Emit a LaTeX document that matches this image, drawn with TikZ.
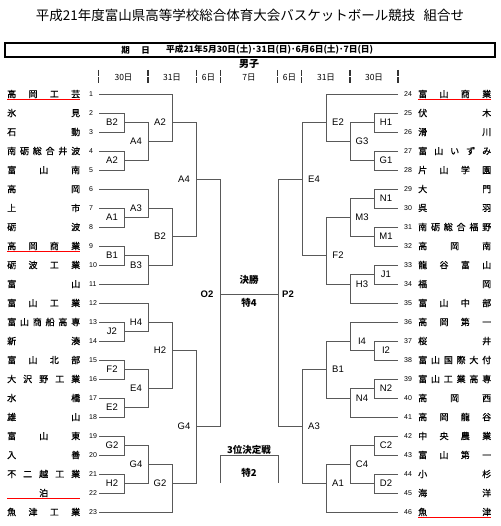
\documentclass[tikz,border=0pt]{standalone}
\usepackage{fontspec}
\setmainfont{Noto Sans CJK JP}
\newfontfamily\lat{Liberation Sans}
\font\tmfont="Noto Sans CJK JP:embolden=0.8" at 9pt
\def\spreadA#1#2{#1\ifx\relax#2\else\hfill\expandafter\spreadA\expandafter#2\fi}
\newcommand\spreadname[1]{\hbox to 73pt{\spreadA#1\relax}}
\begin{document}
\begin{tikzpicture}[x=1pt,y=-1pt,
  br/.style={draw=black!65, line width=0.6pt},
  lab/.style={font=\lat\fontsize{9.5}{10}\selectfont, inner sep=0},
  num/.style={font=\lat\fontsize{7}{8}\selectfont, inner sep=0, anchor=west},
  team/.style={font=\tmfont, inner sep=0, anchor=west},
  ul/.style={draw=red, line width=0.8pt},
  daymark/.style={draw=black!80, line width=1.1pt, dash pattern=on 6pt off 1.5pt},
  day/.style={font=\fontsize{8.5}{9}\selectfont, inner sep=0},
  mid/.style={font=\bfseries\fontsize{9.5}{10}\selectfont, inner sep=0}]
\useasboundingbox (0,0) rectangle (500,526);
% left match: V, Xt, Yt, Xb, Yb, Yout, label
\newcommand\mL[7]{\draw[br] (#2,#3) -- (#1,#3) -- (#1,#5) -- (#4,#5);
  \node[lab] (L-#7-#1) at (#1-12,#6) {#7};}
\newcommand\mR[7]{\draw[br] (#2,#3) -- (#1,#3) -- (#1,#5) -- (#4,#5);
  \node[lab] (R-#7-#1) at (#1+12,#6) {#7};}
% title
\node[font=\fontsize{13.5}{14}\selectfont, inner sep=0] (title) at (250,15)
  {平成21年度富山県高等学校総合体育大会バスケットボール競技\hspace{0.6em}組合せ};
\draw[line width=1.6pt] (5,43) rectangle (495,57);
\node[font=\bfseries\fontsize{8.5}{9}\selectfont, inner sep=0] (k1) at (125.7,50) {期};
\node[font=\bfseries\fontsize{8.5}{9}\selectfont, inner sep=0] (k2) at (145.7,50) {日};
\node[font=\bfseries\fontsize{8.7}{9}\selectfont, inner sep=0, anchor=west] (date) at (166,50)
  {平成21年5月30日(土)･31日(日)･6月6日(土)･7日(日)};
\node[font=\bfseries\fontsize{10}{11}\selectfont, inner sep=0] (boys) at (249,63.5) {男子};
% day header
\foreach \x in {98.5,148,196.5,220.5,277.5,301.5,350,398}
  \draw[daymark] (\x,70) -- (\x,84);
\node[day] at (123.5,78) {30日};
\node[day] at (172,78) {31日};
\node[day] at (208.5,78) {6日};
\node[day] at (249,78) {7日};
\node[day] at (289.5,78) {6日};
\node[day] at (326,78) {31日};
\node[day] at (374,78) {30日};
% teams left
\foreach \t [count=\i] in {高岡工芸,氷見,石動,南砺総合井波,富山南,高岡,上市,砺波,高岡商業,砺波工業,富山,富山工業,富山商船高専,新湊,富山北部,大沢野工業,水橋,雄山,富山東,入善,不二越工業,\hfill 泊\hfill,魚津工業}{
  \node[team] (tl\i) at (7,{94+19*(\i-1)}) {\expandafter\spreadname\expandafter{\t}};
  \node[num] (nl\i) at (89,{94+19*(\i-1)}) {\i};
}
% teams right
\foreach \t [count=\i from 24] in {富山商業,伏木,滑川,富山いずみ,片山学園,大門,呉羽,南砺総合福野,高岡南,龍谷富山,福岡,富山中部,高岡第一,桜井,富山国際大付,富山工業高専,高岡西,高岡龍谷,中央農業,富山第一,小杉,海洋,魚津}{
  \node[team] (tr\i) at (418,{94+19*(\i-24)}) {\expandafter\spreadname\expandafter{\t}};
  \node[num] (nr\i) at (404,{94+19*(\i-24)}) {\i};
}
% red underlines
\draw[ul] (7,99.5) -- (80,99.5);
\draw[ul] (7,251.5) -- (80,251.5);
\draw[ul] (7,498.5) -- (80,498.5);
\draw[ul] (418,99.5) -- (491,99.5);
\draw[ul] (418,517) -- (491,517);
% left round 1
\mL{124}{99}{113}{99}{132}{122.5}{B2}
\mL{124}{99}{151}{99}{170}{160.5}{A2}
\mL{124}{99}{208}{99}{227}{217}{A1}
\mL{124}{99}{246}{99}{265}{255.5}{B1}
\mL{124}{99}{322}{99}{341}{331.5}{J2}
\mL{124}{99}{360}{99}{379}{369.5}{F2}
\mL{124}{99}{398}{99}{417}{407.5}{E2}
\mL{124}{99}{436}{99}{455}{445.5}{G2}
\mL{124}{99}{474}{99}{493}{483.5}{H2}
% left round 2
\mL{148}{124}{122.5}{124}{160.5}{141.5}{A4}
\mL{148}{99}{189}{124}{217.5}{208}{A3}
\mL{148}{124}{255.5}{99}{284}{265}{B3}
\mL{148}{99}{303}{124}{331.5}{322}{H4}
\mL{148}{124}{369.5}{124}{407.5}{388.5}{E4}
\mL{148}{124}{445.5}{124}{483.5}{464.5}{G4}
% left round 3
\mL{172}{99}{94}{148}{141.5}{122}{A2}
\mL{172}{148}{208}{148}{265}{236.5}{B2}
\mL{172}{148}{322}{148}{388.5}{350.5}{H2}
\mL{172}{148}{464.5}{99}{512}{483.5}{G2}
% left round 4
\mL{196}{172}{122}{172}{236.5}{179.5}{A4}
\mL{196}{172}{350.5}{172}{483.5}{426.5}{G4}
% left round 5
\draw[br] (196,179.5) -- (220,179.5) -- (220,426.5) -- (196,426.5);
\node[lab, font=\lat\bfseries\fontsize{9.5}{10}\selectfont] (O2) at (207,294) {O2};
% right round 1
\mR{374}{398}{113}{398}{132}{122.5}{H1}
\mR{374}{398}{151}{398}{170}{160.5}{G1}
\mR{374}{398}{189}{398}{208}{198.5}{N1}
\mR{374}{398}{227}{398}{246}{236.5}{M1}
\mR{374}{398}{265}{398}{284}{274.5}{J1}
\mR{374}{398}{341}{398}{360}{350.5}{I2}
\mR{374}{398}{379}{398}{398}{388.5}{N2}
\mR{374}{398}{436}{398}{455}{445.5}{C2}
\mR{374}{398}{474}{398}{493}{483.5}{D2}
% right round 2
\mR{350}{374}{122.5}{374}{160.5}{141.5}{G3}
\mR{350}{374}{198.5}{374}{236.5}{217}{M3}
\mR{350}{374}{274.5}{398}{303}{284}{H3}
\mR{350}{398}{322}{374}{350.5}{341}{I4}
\mR{350}{374}{388.5}{398}{417}{398}{N4}
\mR{350}{374}{445.5}{374}{483.5}{464.5}{C4}
% right round 3
\mR{326}{398}{94}{350}{141.5}{122}{E2}
\mR{326}{350}{217}{350}{284}{255.5}{F2}
\mR{326}{350}{341}{350}{398}{369.5}{B1}
\mR{326}{350}{464.5}{398}{512}{483.5}{A1}
% right round 4
\mR{302}{326}{122}{326}{255.5}{179.5}{E4}
\mR{302}{326}{369.5}{326}{483.5}{426.5}{A3}
% right round 5
\draw[br] (302,179.5) -- (278,179.5) -- (278,426.5) -- (302,426.5);
\node[lab, font=\lat\bfseries\fontsize{9.5}{10}\selectfont] (P2) at (288,294) {P2};
% final
\draw[br] (220,294) -- (278,294);
\node[mid] (fin) at (249,280) {決勝};
\node[mid] (fin2) at (249,303) {特4};
% third place
\draw[br] (220,483) -- (220,455) -- (278,455) -- (278,483);
\node[mid] (third) at (249,450) {3位決定戦};
\node[mid] (third2) at (249,473) {特2};
\end{tikzpicture}
\end{document}
